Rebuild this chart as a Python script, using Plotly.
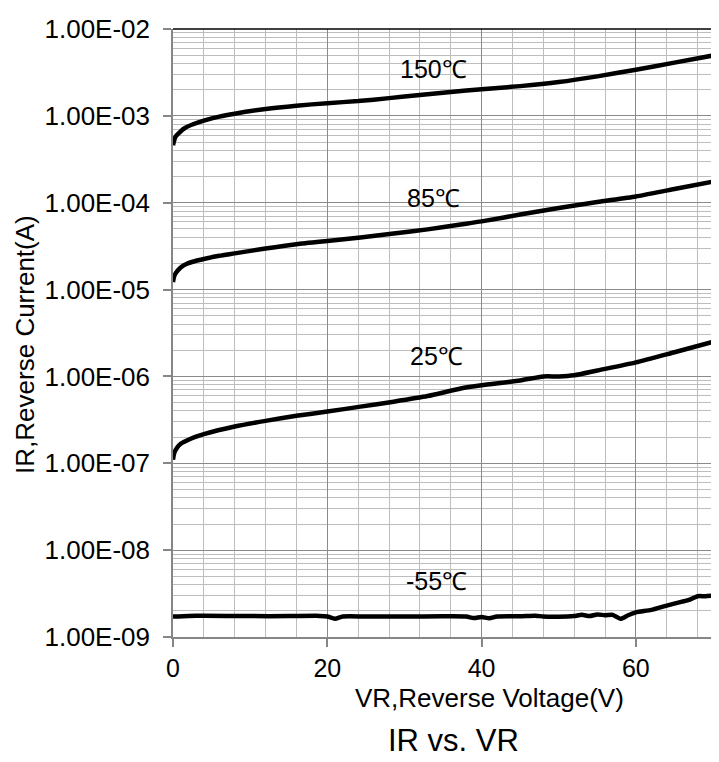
import math
import plotly.graph_objects as go

# ---- data ----
v_150 = [0, 0.3, 0.9, 1.5, 2.6, 4, 6, 8, 12, 16, 20, 24, 28, 32, 36, 40, 45, 50, 55, 60, 65, 70]
i_150 = [4.6e-4, 5.7e-4, 6.5e-4, 7.2e-4, 8.0e-4, 8.8e-4, 9.8e-4, 1.06e-3, 1.2e-3, 1.31e-3, 1.4e-3,
         1.48e-3, 1.6e-3, 1.74e-3, 1.88e-3, 2.03e-3, 2.2e-3, 2.45e-3, 2.85e-3, 3.4e-3, 4.1e-3, 4.95e-3]

v_85 = [0, 0.15, 0.43, 1.0, 1.74, 2.8, 4, 6, 8, 12, 16, 20, 24.3, 28.6, 33, 37.3, 40, 45, 50, 55, 60, 65, 70]
i_85 = [1.22e-5, 1.42e-5, 1.58e-5, 1.8e-5, 1.97e-5, 2.12e-5, 2.25e-5, 2.45e-5, 2.61e-5, 2.97e-5, 3.33e-5,
        3.63e-5, 3.97e-5, 4.41e-5, 4.93e-5, 5.62e-5, 6.1e-5, 7.3e-5, 8.7e-5, 1.02e-4, 1.18e-4, 1.44e-4, 1.75e-4]

v_25 = [0, 0.15, 0.5, 1.0, 1.74, 2.8, 4, 8, 12, 16, 20, 24.3, 28.6, 33, 37.3, 40, 45, 48, 50, 52, 55, 60, 65, 70]
i_25 = [1.1e-7, 1.3e-7, 1.5e-7, 1.68e-7, 1.82e-7, 2.0e-7, 2.17e-7, 2.65e-7, 3.08e-7, 3.52e-7, 3.94e-7,
        4.49e-7, 5.12e-7, 5.94e-7, 7.26e-7, 7.9e-7, 9.0e-7, 1.0e-6, 1.0e-6, 1.03e-6, 1.17e-6, 1.45e-6, 1.9e-6, 2.5e-6]

v_m55 = [0, 2, 4, 10, 15, 19, 20, 21, 22, 25, 30, 35, 38, 39, 40, 41, 42, 45, 47, 48, 50, 52, 53, 54,
         55, 56, 57, 58, 59, 60, 62, 64, 66, 67, 68, 69, 70]
i_m55 = [1.72e-9, 1.75e-9, 1.76e-9, 1.74e-9, 1.74e-9, 1.75e-9, 1.72e-9, 1.62e-9, 1.72e-9, 1.72e-9, 1.72e-9,
         1.73e-9, 1.72e-9, 1.65e-9, 1.70e-9, 1.64e-9, 1.72e-9, 1.73e-9, 1.76e-9, 1.72e-9, 1.71e-9, 1.74e-9,
         1.80e-9, 1.74e-9, 1.82e-9, 1.78e-9, 1.80e-9, 1.62e-9, 1.78e-9, 1.92e-9, 2.05e-9, 2.3e-9, 2.55e-9,
         2.7e-9, 2.95e-9, 2.95e-9, 3.0e-9]

series = [("150℃", v_150, i_150), ("85℃", v_85, i_85), ("25℃", v_25, i_25), ("-55℃", v_m55, i_m55)]

label_text = ["150℃", "85℃", "25℃", "-55℃"]
label_x = [33.8, 33.8, 34.2, 34.1]
label_y = [3.5e-3, 1.13e-4, 1.71e-6, 4.4e-9]

y_tick_vals = [1e-9, 1e-8, 1e-7, 1e-6, 1e-5, 1e-4, 1e-3, 1e-2]
y_tick_text = ["1.00E-09", "1.00E-08", "1.00E-07", "1.00E-06", "1.00E-05", "1.00E-04", "1.00E-03", "1.00E-02"]
y_minor_vals = [m * 10.0 ** e for e in range(-9, -2) for m in range(2, 10)]
x_tick_vals = [0, 20, 40, 60]

FONT = "Liberation Sans, Arial, sans-serif"
OFF = 8  # default page body margin
W, H = 711, 754
L, T = 173 - OFF, 23 - OFF
R = W - (713 - OFF)
B = H - (637 - OFF)

fig = go.Figure()
for name, xs, ys in series:
    fig.add_trace(go.Scatter(x=xs, y=ys, mode="lines", name=name,
                             line=dict(color="black", width=4.5, shape="spline", smoothing=0.6),
                             showlegend=False, hoverinfo="skip"))

for t, x, y in zip(label_text, label_x, label_y):
    fig.add_annotation(x=x, y=math.log10(y), text=t, showarrow=False,
                       font=dict(family=FONT, size=25, color="black"),
                       xanchor="center", yanchor="middle")

pw = W - L - R
ph = H - T - B
def px(xp):
    return (xp - OFF - L) / pw
def py(yp):
    return (H - B - (yp - OFF)) / ph

fig.add_annotation(xref="paper", yref="paper", x=px(489.5), y=py(699), text="VR,Reverse Voltage(V)",
                   showarrow=False, font=dict(family=FONT, size=26, color="black"),
                   xanchor="center", yanchor="middle")
fig.add_annotation(xref="paper", yref="paper", x=px(453), y=py(742), text="IR vs. VR",
                   showarrow=False, font=dict(family=FONT, size=31, color="black"),
                   xanchor="center", yanchor="middle")
fig.add_annotation(xref="paper", yref="paper", x=px(25), y=py(342), text="IR,Reverse Current(A)",
                   showarrow=False, textangle=-90, font=dict(family=FONT, size=26, color="black"),
                   xanchor="center", yanchor="middle")

# top and right frame lines (black)
fig.add_shape(type="line", xref="paper", yref="paper", x0=0, x1=1, y0=1, y1=1,
              line=dict(color="black", width=1.5))
fig.add_shape(type="line", xref="paper", yref="paper", x0=1, x1=1, y0=0, y1=1,
              line=dict(color="black", width=1.5))

fig.update_layout(
    width=W, height=H,
    margin=dict(l=L, r=R, t=T, b=B),
    paper_bgcolor="white", plot_bgcolor="white",
    font=dict(family=FONT, color="black"),
    xaxis=dict(range=[0, 70], tickmode="array", tickvals=x_tick_vals,
               ticks="outside", ticklen=8, tickcolor="#868686", tickwidth=1.5,
               showline=True, linecolor="#868686", linewidth=1.5,
               showgrid=True, gridcolor="#8a8a8a", gridwidth=1,
               minor=dict(tickmode="linear", tick0=0, dtick=4, showgrid=True,
                          gridcolor="#bdbdbd", gridwidth=1, ticks=""),
               tickfont=dict(family=FONT, size=25, color="black"),
               zeroline=False, fixedrange=True),
    yaxis=dict(type="log", range=[-9, -2], tickmode="array", tickvals=y_tick_vals,
               ticktext=y_tick_text,
               ticks="outside", ticklen=8, tickcolor="#868686", tickwidth=1.5,
               ticklabelstandoff=8,
               showline=True, linecolor="#868686", linewidth=1.5,
               showgrid=True, gridcolor="#8a8a8a", gridwidth=1,
               minor=dict(tickmode="array", tickvals=y_minor_vals, showgrid=True,
                          gridcolor="#bdbdbd", gridwidth=1, ticks=""),
               tickfont=dict(family=FONT, size=26, color="black"),
               zeroline=False, fixedrange=True),
)

fig.write_html("out.html")
